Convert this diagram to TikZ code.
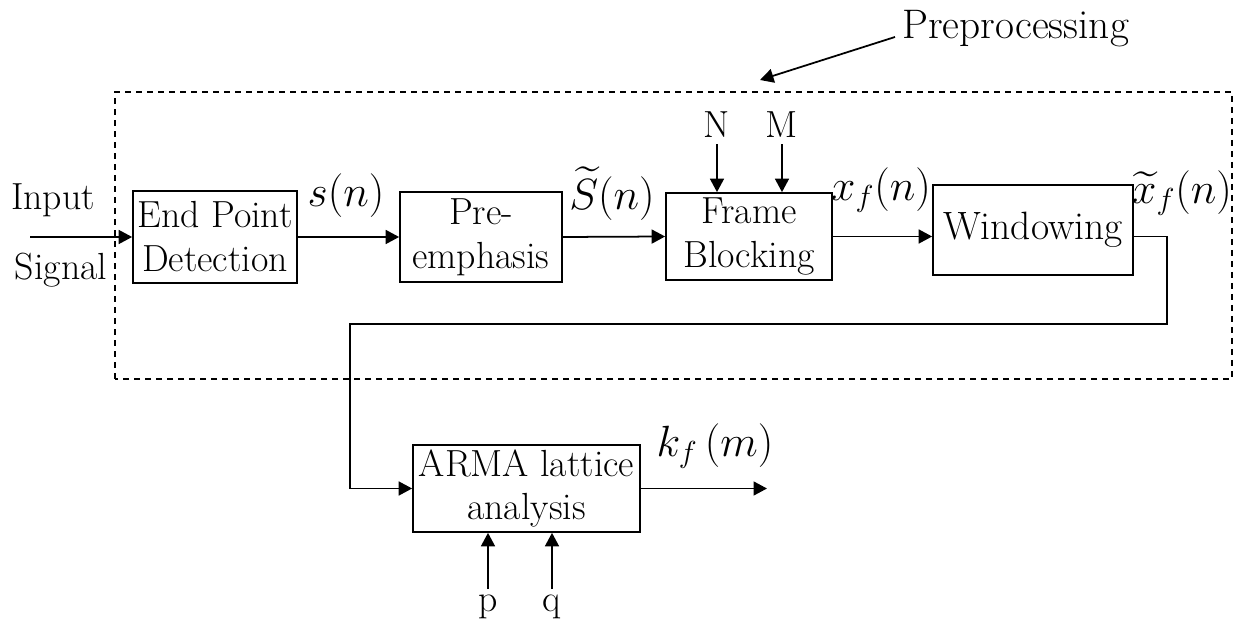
\documentclass[tikz,border=0pt]{standalone}
\usepackage{amsmath}
\usepackage{amssymb}
\usetikzlibrary{arrows.meta}

\begin{document}
\begin{tikzpicture}[
	blk/.style={draw, line width=1pt, align=center, inner sep=0pt, font=\fontsize{21.5}{25}\selectfont},
	txt/.style={font=\fontsize{21.5}{25}\selectfont},
	sig/.style={inner sep=0pt, font=\fontsize{25}{29}\selectfont},
	flow/.style={line width=1pt, -{Triangle[length=0.27cm,width=0.28cm]}},
	frame/.style={line width=0.8pt, dash pattern=on 0.12cm off 0.1cm}]
	\useasboundingbox (0,0) rectangle (24.7,12.44);

	% Preprocessing
	\draw [frame] (2.3,4.86) rectangle (24.64,10.6);
	\node [txt, anchor=west, inner sep=0pt, font=\fontsize{23.5}{27}\selectfont] (prep) at (18.04,11.86) {Preprocessing};
	\coordinate (prefoot) at (17.9,11.7);
	\coordinate (pretip) at (15.2,10.84);
	\draw [flow] (prefoot) -- (pretip);

	% blocks
	\node [blk, minimum width=3.28cm, minimum height=1.84cm] (epd) at (4.30,7.70) {End Point\\Detection};
	\node [blk, minimum width=3.24cm, minimum height=1.80cm] (pre) at (9.62,7.70) {Pre-\\emphasis};
	\node [blk, minimum width=3.32cm, minimum height=1.74cm] (fb) at (14.98,7.71) {Frame\\Blocking};
	\node [blk, minimum width=4.00cm, minimum height=1.80cm, font=\fontsize{22.5}{26}\selectfont] (win) at (20.66,7.84) {Windowing};
	\node [blk, minimum width=4.54cm, minimum height=1.74cm] (arma) at (10.53,2.67) {ARMA lattice\\analysis};

	% input
	\node [txt, inner sep=0pt] (inp) at (1.06,8.44) {Input};
	\node [txt, inner sep=0pt] (sgl) at (1.22,7.04) {Signal};
	\coordinate (in) at (0.6,7.70);
	\draw [flow] (in) -- (epd.west);

	% chain
	\draw [flow] (epd.east) -- (pre.west);
	\draw [flow] (pre.east) -- (fb.west);
	\draw [flow] (fb.east) -- (fb.east -| win.west);

	% signal labels
	\node [sig] (sn) at (6.92,8.52) {$s(n)$};
	\node [sig] (ssn) at (12.24,8.56) {$\widetilde{S}(n)$};
	\node [sig] (xfn) at (17.62,8.64) {$x_f(n)$};
	\node [sig] (xxfn) at (23.64,8.58) {$\widetilde{x}_f(n)$};
	\node [sig] (kfm) at (14.3,3.52) {$k_f\,(m)$};

	% N, M
	\node [txt] (nn) at (14.34,9.94) {N};
	\node [txt] (mm) at (15.64,9.94) {M};
	\draw [flow] (nn.south) -- (nn.south |- fb.north);
	\draw [flow] (mm.south) -- (mm.south |- fb.north);

	% feedback to ARMA
	\coordinate (turn) at (23.34,5.96);
	\coordinate (back) at (7.0,5.96);
	\draw [flow] (fb.east -| win.east) -| (turn) -- (back) |- (arma.west);

	% output
	\coordinate (out) at (15.34,2.67);
	\draw [flow] (arma.east) -- (out);

	% p, q
	\node [txt, anchor=base] (pp) at (9.76,0.2) {p};
	\node [txt, anchor=base] (qq) at (11.04,0.2) {q};
	\draw [flow] (pp.north) -- (pp.north |- arma.south);
	\draw [flow] (qq.north) -- (qq.north |- arma.south);
\end{tikzpicture}
\end{document}
